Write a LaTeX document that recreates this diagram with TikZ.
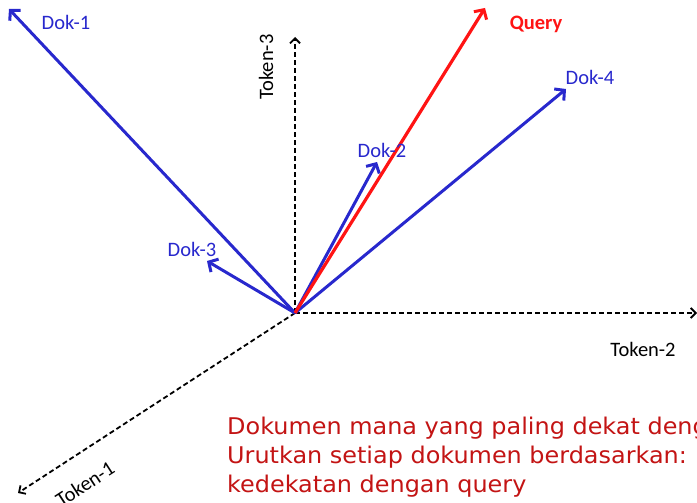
\documentclass[tikz,border=0pt]{standalone}
\usepackage{fontspec}
\setmainfont{Carlito}
\newfontfamily\notefont[FakeStretch=1.04]{DejaVu Sans}
\usetikzlibrary{arrows.meta}
\definecolor{dokblue}{RGB}{40,40,205}
\definecolor{queryred}{RGB}{255,20,20}
\definecolor{notered}{RGB}{195,20,20}
\begin{document}
\begin{tikzpicture}[x=1pt, y=-1pt,
    axis_style/.style={line width=1.8pt, dash pattern=on 5pt off 3pt, -{Straight Barb[length=5pt, width=10pt, line width=1.8pt]}},
    vec_style/.style={line width=3pt, dokblue, -{Straight Barb[length=7pt, width=15pt, line width=3pt]}},
    query_style/.style={vec_style, queryred, line width=3.2pt},
    label_style/.style={font=\fontsize{20.5}{22}\selectfont, inner sep=0pt},
    note_style/.style={font=\notefont\fontsize{23}{27}\selectfont, text=notered, inner sep=0pt, anchor=base west}
]
\clip (0,0) rectangle (697,503);
% origin and axes
\coordinate (O) at (295,313);
\coordinate (t1) at (18,493);
\coordinate (t2) at (697,313);
\coordinate (t3) at (295,37);
\draw[axis_style] (O) -- (t1);
\draw[axis_style] (O) -- (t2);
\draw[axis_style] (O) -- (t3);
\node[label_style, rotate=33] (l1) at (85,484) {Token-1};
\node[label_style] (l2) at (643,349) {Token-2};
\node[label_style, rotate=90] (l3) at (266,67) {Token-3};
% document vectors
\coordinate (d1) at (9,9);
\coordinate (d2) at (377,162);
\coordinate (d3) at (207,261);
\coordinate (d4) at (566,89);
\coordinate (q) at (485,8);
\draw[vec_style] (O) -- (d1);
\draw[vec_style] (O) -- (d2);
\draw[vec_style] (O) -- (d3);
\draw[vec_style] (O) -- (d4);
\draw[query_style] (O) -- (q);
\node[label_style, text=dokblue] (n1) at (66,22) {Dok-1};
\node[label_style, text=dokblue] (n2) at (382,150) {Dok-2};
\node[label_style, text=dokblue] (n3) at (192,249) {Dok-3};
\node[label_style, text=dokblue] (n4) at (590,77) {Dok-4};
\node[label_style, text=queryred, font=\fontsize{20.5}{22}\selectfont\bfseries] (nq) at (536,24) {Query};
% question
\node[note_style] (q1) at (227,434) {Dokumen mana yang paling dekat dengan};
\node[note_style] (q2) at (227,463) {Urutkan setiap dokumen berdasarkan:};
\node[note_style] (q3) at (227,492) {kedekatan dengan query};
\end{tikzpicture}
\end{document}
